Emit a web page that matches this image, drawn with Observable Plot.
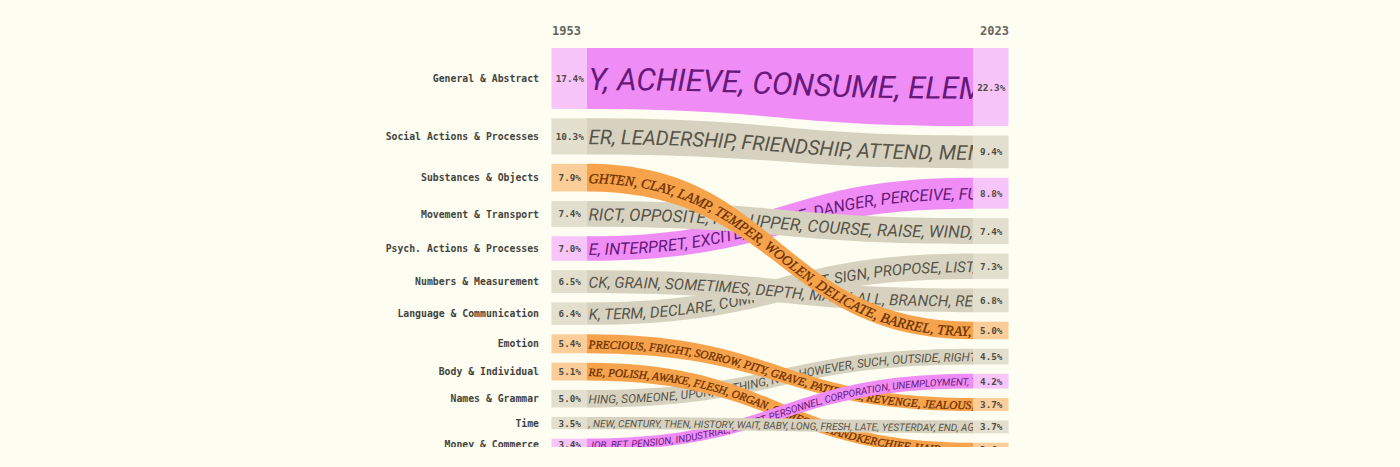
<!DOCTYPE html>
<html><head><meta charset="utf-8">
<script src="https://cdn.jsdelivr.net/npm/d3@7"></script>
<script src="https://cdn.jsdelivr.net/npm/@observablehq/plot@0.6"></script>
<style>
html,body{margin:0;padding:0;background:#fdfdf1;}
#chart svg{display:block;}
</style></head><body><div id="chart"></div>
<script>
// ---------- data ----------
const categories = ["General & Abstract", "Social Actions & Processes", "Substances & Objects", "Movement & Transport", "Psych. Actions & Processes", "Numbers & Measurement", "Language & Communication", "Emotion", "Body & Individual", "Names & Grammar", "Time", "Money & Commerce"];
const share1953 = [17.4, 10.3, 7.9, 7.4, 7.0, 6.5, 6.4, 5.4, 5.1, 5.0, 3.5, 3.4];
const share2023 = [22.3, 9.4, 5.0, 7.4, 8.8, 6.8, 7.3, 3.7, 3.6, 4.5, 3.7, 4.2];
const groups = ["pink", "gray", "orange", "gray", "pink", "gray", "gray", "orange", "orange", "gray", "gray", "pink"];
const years = ["1953", "2023"];
const ribbonWords = [
  ["Y", "ACHIEVE", "CONSUME", "ELEMENT", "EXISTENCE", "FACTOR"],
  ["ER", "LEADERSHIP", "FRIENDSHIP", "ATTEND", "MEMBER", "SOCIETY"],
  ["GHTEN", "CLAY", "LAMP", "TEMPER", "WOOLEN", "DELICATE", "BARREL", "TRAY", "COTTON", "WIRE"],
  ["RICT", "OPPOSITE", "FAR", "UPPER", "COURSE", "RAISE", "WIND", "TRAVEL", "ROAD"],
  ["E", "INTERPRET", "EXCITE", "REALIZE", "DANGER", "PERCEIVE", "FULFIL", "MIND"],
  ["CK", "GRAIN", "SOMETIMES", "DEPTH", "MANY", "ALL", "BRANCH", "REPEAT", "HALF"],
  ["K", "TERM", "DECLARE", "COMPEL", "ENLIST", "SIGN", "PROPOSE", "LIST", "WORD"],
  ["PRECIOUS", "FRIGHT", "SORROW", "PITY", "GRAVE", "PATIENCE", "REVENGE", "JEALOUS", "FEAR"],
  ["RE", "POLISH", "AWAKE", "FLESH", "ORGAN", "COMFORT", "HANDKERCHIEF", "HAIR"],
  ["HING", "SOMEONE", "UPON", "NOTHING", "NOR", "HOWEVER", "SUCH", "OUTSIDE", "RIGHT", "NEITHER"],
  ["", "NEW", "CENTURY", "THEN", "HISTORY", "WAIT", "BABY", "LONG", "FRESH", "LATE", "YESTERDAY", "END", "AGE"],
  ["JOB", "BET", "PENSION", "INDUSTRIAL", "EXPORT", "PERSONNEL", "CORPORATION", "UNEMPLOYMENT", "TRADE"]
];
const layerOrder = ["General & Abstract", "Social Actions & Processes", "Psych. Actions & Processes", "Movement & Transport", "Language & Communication", "Numbers & Measurement", "Names & Grammar", "Emotion", "Body & Individual", "Substances & Objects", "Money & Commerce", "Time"];

// ---------- styles ----------
const palette = {
  pink:   {ribbon: "#f08cf5", column: "#f7c5f9", text: "#66197a", font: "Roboto, 'Open Sans', sans-serif", weight: 400, scale: 1, stroke: 0},
  gray:   {ribbon: "#d7d2bf", column: "#e3dfcf", text: "#57544a", font: "Roboto, 'Open Sans', sans-serif", weight: 400, scale: 1, stroke: 0},
  orange: {ribbon: "#f7a34c", column: "#facd99", text: "#6b3000", font: "'Liberation Serif', 'DejaVu Serif', serif", weight: 400, scale: 1.1, stroke: 0.3}
};
const mono = "'DejaVu Sans Mono', 'Liberation Mono', monospace";
const gap = 2.7;          // gap between bands, in share units
const colW = 0.092;       // column width, in x units
const yDomain = [0, 100], yRange = [48, 398];
const pxPerUnit = (yRange[1] - yRange[0]) / (yDomain[1] - yDomain[0]);

// ---------- layout ----------
const n = categories.length;
function stackTops(values) {
  const order = d3.sort(d3.range(n), (a, b) => d3.descending(values[a], values[b]));
  const tops = new Array(n); let acc = 0;
  for (const i of order) { tops[i] = acc; acc += values[i] + gap; }
  return tops;
}
const top1953 = stackTops(share1953);
const top2023 = stackTops(share2023);

const columns = [];
for (let i = 0; i < n; ++i) {
  columns.push({i, x1: -colW, x2: 0, y1: top1953[i], y2: top1953[i] + share1953[i], v: share1953[i], g: groups[i]});
  columns.push({i, x1: 1, x2: 1 + colW, y1: top2023[i], y2: top2023[i] + share2023[i], v: share2023[i], g: groups[i]});
}

const layerIdx = layerOrder.map(name => categories.indexOf(name));
const marks = [];
for (const i of layerIdx) {
  const g = palette[groups[i]];
  marks.push(Plot.area([
    {x: 0, y1: top1953[i], y2: top1953[i] + share1953[i]},
    {x: 1, y1: top2023[i], y2: top2023[i] + share2023[i]}
  ], {x1: "x", y1: "y1", y2: "y2", curve: "bump-x", fill: g.ribbon}));
  const c1 = top1953[i] + share1953[i] / 2, c2 = top2023[i] + share2023[i] / 2;
  marks.push(Plot.line([{x: 0, y: c1}, {x: 1, y: c2}, {x: 1.4, y: c2}],
    {x: "x", y: "y", curve: "bump-x", stroke: g.text, strokeOpacity: 0}));
}
marks.push(Plot.rect(columns, {x1: "x1", x2: "x2", y1: "y1", y2: "y2", fill: d => palette[d.g].column}));
marks.push(Plot.text(columns, {
  x: d => (d.x1 + d.x2) / 2, y: d => (d.y1 + d.y2) / 2, text: d => d.v.toFixed(1) + "%",
  fontFamily: mono, fontWeight: "bold", fontSize: 9.3, fill: "#4d4b44"
}));
marks.push(Plot.text(categories, {
  x: -colW, y: (d, i) => top1953[i] + share1953[i] / 2, text: d => d, dx: -13, textAnchor: "end",
  fontFamily: mono, fontWeight: "bold", fontSize: 9.8, fill: "#444440"
}));
marks.push(Plot.text([years[0]], {
  x: -colW, frameAnchor: "top", dy: 26, textAnchor: "start", text: d => d,
  fontFamily: mono, fontWeight: "bold", fontSize: 12, fill: "#666660"
}));
marks.push(Plot.text([years[1]], {
  x: 1 + colW, frameAnchor: "top", dy: 26, textAnchor: "end", text: d => d,
  fontFamily: mono, fontWeight: "bold", fontSize: 12, fill: "#666660"
}));

const chart = Plot.plot({
  width: 1400, height: 447,
  margin: 0, axis: null,
  x: {domain: [0, 1], range: [587, 973]},
  y: {domain: yDomain, range: yRange},
  style: {background: "#fdfdf1", overflow: "hidden"},
  marks
});
document.getElementById("chart").append(chart);

// ---------- text along the ribbons ----------
const svg = d3.select(chart);
const defs = svg.insert("defs", ":first-child");
const areaGs = chart.querySelectorAll('g[aria-label="area"]');
const lineGs = chart.querySelectorAll('g[aria-label="line"]');
layerIdx.forEach((i, k) => {
  const g = palette[groups[i]];
  const areaPath = areaGs[k].querySelector("path");
  const lineG = lineGs[k];
  const linePath = lineG.querySelector("path");
  linePath.setAttribute("id", "center-path-" + i);
  defs.append("clipPath").attr("id", "clip-" + i)
    .append("path").attr("d", areaPath.getAttribute("d"));
  const minPx = Math.min(share1953[i], share2023[i]) * pxPerUnit;
  const fs = Math.min(31, 4 + 0.5 * minPx) * g.scale;
  const t = d3.select(lineG).append("text")
    .attr("clip-path", `url(#clip-${i})`)
    .attr("stroke", g.stroke ? g.text : "none")
    .attr("stroke-width", g.stroke)
    .attr("stroke-opacity", g.stroke ? 1 : 0)
    .attr("font-family", g.font)
    .attr("font-style", "italic")
    .attr("font-weight", g.weight)
    .attr("font-size", fs.toFixed(1))
    .attr("fill", g.text)
    .attr("text-anchor", "start");
  t.append("textPath")
    .attr("href", "#center-path-" + i)
    .attr("startOffset", 1)
    .append("tspan")
    .attr("dy", "0.36em")
    .text(ribbonWords[i].join(", "));
});
</script></body></html>
